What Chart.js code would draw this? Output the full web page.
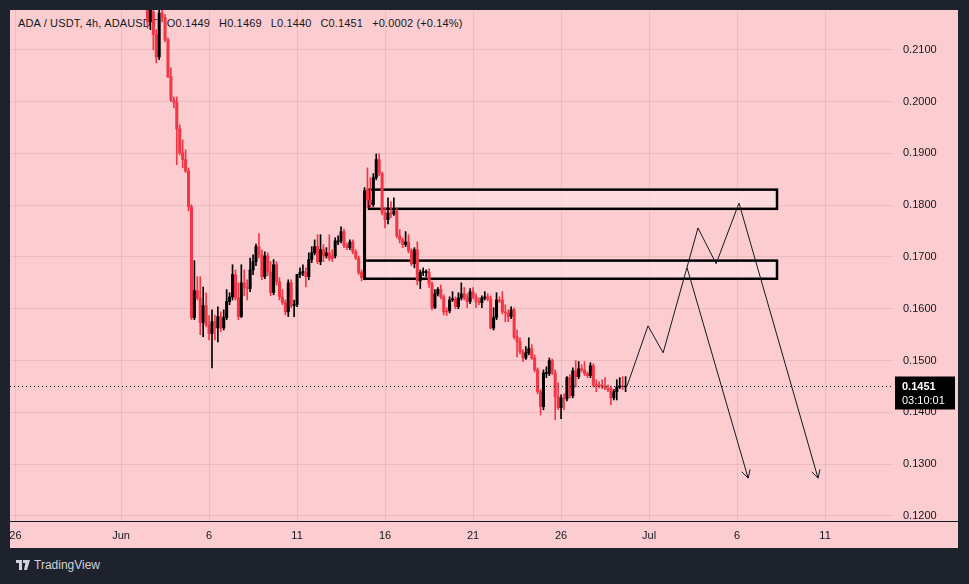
<!DOCTYPE html>
<html>
<head>
<meta charset="utf-8">
<script src="https://cdn.jsdelivr.net/npm/chart.js@4.4.0/dist/chart.umd.min.js"></script>
<style>
  html, body { margin: 0; padding: 0; background: #1e222d; width: 969px; height: 584px; overflow: hidden; }
  #panel { position: absolute; left: 10px; top: 10px; width: 948px; height: 538px; background: #fccdd0; }
  #legend { position: absolute; left: 8px; top: 7px; font: 11px "Liberation Sans", Arial, sans-serif; color: #131722; white-space: nowrap; letter-spacing: 0.15px; }
  #legend span { margin-left: 9px; }
  #chartCanvas { position: absolute; left: 0; top: 0; }
  #brand { position: absolute; left: 16px; top: 558px; font: 12px "Liberation Sans", Arial, sans-serif; color: #d1d4dc; display: flex; align-items: center; gap: 4px; }
</style>
</head>
<body>
<div id="panel">
  <div id="legend">ADA / USDT, 4h, ADAUSDT<span>O0.1449</span><span>H0.1469</span><span>L0.1440</span><span>C0.1451</span><span>+0.0002 (+0.14%)</span></div>
  <canvas id="chartCanvas" width="948" height="538"></canvas>
</div>
<div id="brand">
  <svg width="14" height="10" viewBox="0 0 14 10"><path d="M0 0h6v10H3V3H0z M7 0h3v3H7z M10 0h4l-3 10H8z" fill="#d1d4dc"/></svg>
  <span>TradingView</span>
</div>
<script>
// time axis: days counted from Jun 1
const tickDays = [-6, 0, 5, 10, 15, 20, 25, 30, 35, 40];
const tickLabels = ['26', 'Jun', '6', '11', '16', '21', '26', 'Jul', '6', '11'];
const priceTicks = [0.12, 0.13, 0.14, 0.15, 0.16, 0.17, 0.18, 0.19, 0.20, 0.21];

// 4h candles starting Jun 2 12:00
const firstCandleDay = 1.5;
const candleHours = 4;

const open = [
  0.2197, 0.2154, 0.2173, 0.2129, 0.2086, 0.2171, 0.2162, 0.2119, 0.2048, 0.2003,
  0.1998, 0.1947, 0.1901, 0.1888, 0.1866, 0.1797, 0.1583, 0.1635, 0.1621, 0.1573,
  0.1606, 0.1569, 0.1552, 0.1575, 0.1563, 0.1585, 0.1563, 0.1583, 0.1614, 0.1623,
  0.1666, 0.1621, 0.1585, 0.1650, 0.1641, 0.1639, 0.1675, 0.1691, 0.1720, 0.1704,
  0.1662, 0.1702, 0.1671, 0.1631, 0.1685, 0.1652, 0.1623, 0.1612, 0.1594, 0.1650,
  0.1606, 0.1608, 0.1666, 0.1670, 0.1670, 0.1662, 0.1695, 0.1708, 0.1720, 0.1691,
  0.1714, 0.1702, 0.1708, 0.1702, 0.1702, 0.1729, 0.1731, 0.1749, 0.1722, 0.1718,
  0.1729, 0.1710, 0.1698, 0.1670, 0.1660, 0.1830, 0.1810, 0.1801, 0.1853, 0.1888,
  0.1861, 0.1785, 0.1772, 0.1785, 0.1783, 0.1789, 0.1741, 0.1733, 0.1724, 0.1729,
  0.1712, 0.1687, 0.1714, 0.1654, 0.1670, 0.1670, 0.1670, 0.1648, 0.1602, 0.1629,
  0.1637, 0.1623, 0.1596, 0.1596, 0.1617, 0.1619, 0.1604, 0.1621, 0.1629, 0.1621,
  0.1614, 0.1633, 0.1623, 0.1614, 0.1612, 0.1621, 0.1623, 0.1619, 0.1563, 0.1583,
  0.1617, 0.1617, 0.1594, 0.1592, 0.1585, 0.1598, 0.1546, 0.1536, 0.1517, 0.1505,
  0.1515, 0.1523, 0.1505, 0.1482, 0.1440, 0.1411, 0.1475, 0.1475, 0.1500, 0.1476,
  0.1430, 0.1409, 0.1428, 0.1426, 0.1467, 0.1432, 0.1480, 0.1469, 0.1484, 0.1482,
  0.1475, 0.1471, 0.1490, 0.1453, 0.1453, 0.1453, 0.1451, 0.1447, 0.1446, 0.1428,
  0.1440, 0.1449, 0.1451, 0.1449
];
const high = [
  0.2216, 0.2216, 0.2187, 0.2139, 0.2197, 0.2187, 0.2168, 0.2123, 0.2065, 0.2009,
  0.2009, 0.1955, 0.1926, 0.1907, 0.1872, 0.1801, 0.1693, 0.1662, 0.1662, 0.1642,
  0.1631, 0.1587, 0.1598, 0.1588, 0.1604, 0.1594, 0.1598, 0.1637, 0.1631, 0.1685,
  0.1675, 0.1650, 0.1685, 0.1675, 0.1656, 0.1698, 0.1704, 0.1725, 0.1745, 0.1714,
  0.1710, 0.1708, 0.1691, 0.1695, 0.1691, 0.1660, 0.1637, 0.1617, 0.1656, 0.1656,
  0.1617, 0.1666, 0.1679, 0.1685, 0.1679, 0.1708, 0.1720, 0.1733, 0.1743, 0.1743,
  0.1724, 0.1718, 0.1743, 0.1714, 0.1737, 0.1741, 0.1758, 0.1754, 0.1727, 0.1733,
  0.1733, 0.1714, 0.1702, 0.1675, 0.1834, 0.1872, 0.1853, 0.1861, 0.1899, 0.1899,
  0.1864, 0.1795, 0.1814, 0.1807, 0.1814, 0.1793, 0.1753, 0.1737, 0.1749, 0.1743,
  0.1716, 0.1718, 0.1729, 0.1675, 0.1679, 0.1675, 0.1677, 0.1652, 0.1637, 0.1641,
  0.1646, 0.1627, 0.1602, 0.1623, 0.1633, 0.1623, 0.1631, 0.1650, 0.1641, 0.1629,
  0.1639, 0.1641, 0.1629, 0.1621, 0.1625, 0.1633, 0.1629, 0.1625, 0.1602, 0.1631,
  0.1623, 0.1633, 0.1608, 0.1598, 0.1604, 0.1602, 0.1559, 0.1544, 0.1521, 0.1527,
  0.1544, 0.1531, 0.1511, 0.1486, 0.1444, 0.1482, 0.1488, 0.1505, 0.1503, 0.1482,
  0.1457, 0.1434, 0.1436, 0.1469, 0.1473, 0.1486, 0.1500, 0.1498, 0.1492, 0.1498,
  0.1478, 0.1496, 0.1494, 0.1463, 0.1459, 0.1463, 0.1467, 0.1453, 0.1451, 0.1444,
  0.1463, 0.1467, 0.1469, 0.1469
];
const low = [
  0.2142, 0.2139, 0.2100, 0.2075, 0.2081, 0.2154, 0.2115, 0.2046, 0.2000, 0.1988,
  0.1878, 0.1897, 0.1872, 0.1863, 0.1789, 0.1579, 0.1579, 0.1617, 0.1550, 0.1546,
  0.1565, 0.1540, 0.1486, 0.1540, 0.1536, 0.1556, 0.1559, 0.1579, 0.1608, 0.1617,
  0.1617, 0.1579, 0.1583, 0.1625, 0.1617, 0.1633, 0.1666, 0.1683, 0.1698, 0.1656,
  0.1658, 0.1664, 0.1625, 0.1627, 0.1646, 0.1617, 0.1608, 0.1588, 0.1585, 0.1602,
  0.1585, 0.1604, 0.1660, 0.1664, 0.1642, 0.1656, 0.1689, 0.1704, 0.1687, 0.1685,
  0.1691, 0.1698, 0.1693, 0.1691, 0.1698, 0.1724, 0.1727, 0.1718, 0.1714, 0.1714,
  0.1706, 0.1695, 0.1666, 0.1654, 0.1656, 0.1795, 0.1795, 0.1797, 0.1849, 0.1857,
  0.1781, 0.1756, 0.1764, 0.1776, 0.1780, 0.1737, 0.1727, 0.1718, 0.1720, 0.1708,
  0.1683, 0.1679, 0.1646, 0.1639, 0.1664, 0.1662, 0.1641, 0.1598, 0.1600, 0.1625,
  0.1619, 0.1588, 0.1587, 0.1592, 0.1614, 0.1600, 0.1600, 0.1617, 0.1617, 0.1602,
  0.1610, 0.1619, 0.1602, 0.1608, 0.1602, 0.1617, 0.1615, 0.1561, 0.1559, 0.1579,
  0.1612, 0.1590, 0.1575, 0.1575, 0.1581, 0.1542, 0.1507, 0.1513, 0.1498, 0.1502,
  0.1511, 0.1502, 0.1478, 0.1436, 0.1395, 0.1405, 0.1467, 0.1471, 0.1473, 0.1386,
  0.1405, 0.1388, 0.1405, 0.1422, 0.1428, 0.1428, 0.1449, 0.1465, 0.1478, 0.1471,
  0.1467, 0.1467, 0.1449, 0.1440, 0.1447, 0.1446, 0.1444, 0.1440, 0.1415, 0.1424,
  0.1424, 0.1446, 0.1444, 0.1440
];
const close = [
  0.2154, 0.2177, 0.2129, 0.2086, 0.2171, 0.2162, 0.2119, 0.2048, 0.2003, 0.1998,
  0.1947, 0.1901, 0.1888, 0.1866, 0.1797, 0.1583, 0.1635, 0.1621, 0.1573, 0.1606,
  0.1569, 0.1552, 0.1575, 0.1563, 0.1585, 0.1563, 0.1583, 0.1614, 0.1623, 0.1666,
  0.1621, 0.1585, 0.1650, 0.1641, 0.1639, 0.1675, 0.1691, 0.1720, 0.1704, 0.1662,
  0.1702, 0.1671, 0.1631, 0.1685, 0.1652, 0.1623, 0.1612, 0.1594, 0.1650, 0.1606,
  0.1608, 0.1666, 0.1670, 0.1671, 0.1662, 0.1695, 0.1708, 0.1720, 0.1691, 0.1714,
  0.1702, 0.1708, 0.1697, 0.1697, 0.1731, 0.1731, 0.1749, 0.1722, 0.1718, 0.1729,
  0.1710, 0.1698, 0.1670, 0.1660, 0.1828, 0.1810, 0.1801, 0.1853, 0.1888, 0.1861,
  0.1785, 0.1772, 0.1785, 0.1783, 0.1789, 0.1741, 0.1733, 0.1724, 0.1729, 0.1712,
  0.1687, 0.1714, 0.1654, 0.1670, 0.1671, 0.1671, 0.1648, 0.1602, 0.1629, 0.1637,
  0.1623, 0.1594, 0.1594, 0.1617, 0.1619, 0.1604, 0.1621, 0.1629, 0.1621, 0.1614,
  0.1633, 0.1623, 0.1614, 0.1612, 0.1621, 0.1623, 0.1619, 0.1563, 0.1583, 0.1617,
  0.1615, 0.1594, 0.1592, 0.1585, 0.1598, 0.1546, 0.1536, 0.1517, 0.1505, 0.1515,
  0.1523, 0.1505, 0.1482, 0.1440, 0.1411, 0.1476, 0.1476, 0.1500, 0.1476, 0.1430,
  0.1409, 0.1428, 0.1426, 0.1467, 0.1432, 0.1480, 0.1469, 0.1484, 0.1482, 0.1475,
  0.1471, 0.1490, 0.1453, 0.1451, 0.1451, 0.1449, 0.1447, 0.1444, 0.1428, 0.1440,
  0.1449, 0.1451, 0.1449, 0.1451
];

// drawn zones (order blocks): start day, end day, top price, bottom price
const boxStart = [14.09, 13.83];
const boxEnd = [37.27, 37.27];
const boxTop = [0.1830, 0.1693];
const boxBottom = [0.1793, 0.1658];

// projected path drawn by hand
const pathDays = [28.75, 29.94, 30.80, 32.78, 33.81, 35.11, 39.60];
const pathPrices = [0.1451, 0.1567, 0.1515, 0.1756, 0.1687, 0.1804, 0.1273];
const branchDays = [32.16, 35.63];
const branchPrices = [0.1679, 0.1273];

const lastPrice = 0.1451;
const countdown = '03:10:01';

const RED = '#f23645';
const BLACK = '#000000';
const INK = '#131722';
const GRID = 'rgba(170, 100, 110, 0.16)';

const times = open.map((_, i) => firstCandleDay + i * candleHours / 24);
const colors = open.map((o, i) => close[i] >= o ? BLACK : RED);

const wicks = times.map((t, i) => ({ x: t, y: [low[i], high[i]] }));
const bodies = times.map((t, i) => ({ x: t, y: [open[i], close[i]] }));
const path = pathDays.map((d, i) => ({ x: d, y: pathPrices[i] }));
const branch = branchDays.map((d, i) => ({ x: d, y: branchPrices[i] }));

const zonesPlugin = {
    id: 'zones',
    beforeDatasetsDraw(chart) {
        const { ctx, scales: { x, y } } = chart;
        ctx.save();
        for (let i = 0; i < boxStart.length; i++) {
            const x1 = x.getPixelForValue(boxStart[i]);
            const x2 = x.getPixelForValue(boxEnd[i]);
            const y1 = y.getPixelForValue(boxTop[i]);
            const y2 = y.getPixelForValue(boxBottom[i]);
            ctx.fillStyle = 'rgba(255, 232, 234, 0.55)';
            ctx.fillRect(x1, y1, x2 - x1, y2 - y1);
            ctx.strokeStyle = BLACK;
            ctx.lineWidth = 2.5;
            ctx.strokeRect(x1, y1, x2 - x1, y2 - y1);
        }
        ctx.restore();
    }
};

function arrowHead(ctx, x, y, days, prices) {
    const n = days.length;
    const ax = x.getPixelForValue(days[n - 2]), ay = y.getPixelForValue(prices[n - 2]);
    const bx = x.getPixelForValue(days[n - 1]), by = y.getPixelForValue(prices[n - 1]);
    const ang = Math.atan2(by - ay, bx - ax);
    const len = 9;
    ctx.beginPath();
    ctx.moveTo(bx - len * Math.cos(ang - 0.5), by - len * Math.sin(ang - 0.5));
    ctx.lineTo(bx, by);
    ctx.lineTo(bx - len * Math.cos(ang + 0.5), by - len * Math.sin(ang + 0.5));
    ctx.stroke();
}

const overlayPlugin = {
    id: 'overlay',
    afterDatasetsDraw(chart) {
        const { ctx, chartArea, scales: { x, y } } = chart;
        const py = Math.round(y.getPixelForValue(lastPrice)) + 0.5;
        ctx.save();
        // time scale line continues under the price scale
        ctx.strokeStyle = INK;
        ctx.lineWidth = 1;
        ctx.beginPath();
        ctx.moveTo(chartArea.right, chartArea.bottom + 0.5);
        ctx.lineTo(chart.width, chartArea.bottom + 0.5);
        ctx.stroke();
        // dotted last price line
        ctx.setLineDash([1, 3]);
        ctx.beginPath();
        ctx.moveTo(chartArea.left, py);
        ctx.lineTo(chartArea.right, py);
        ctx.stroke();
        ctx.setLineDash([]);
        // arrow heads on the projection
        arrowHead(ctx, x, y, pathDays, pathPrices);
        arrowHead(ctx, x, y, branchDays, branchPrices);
        // price tag on the scale
        const left = chartArea.right + 2;
        ctx.fillStyle = BLACK;
        ctx.fillRect(left, py - 10, 60, 33);
        ctx.fillStyle = '#ffffff';
        ctx.textBaseline = 'middle';
        ctx.textAlign = 'left';
        ctx.font = 'bold 11px "Liberation Sans", Arial, sans-serif';
        ctx.fillText(lastPrice.toFixed(4), left + 7, py);
        ctx.font = '11px "Liberation Sans", Arial, sans-serif';
        ctx.fillText(countdown, left + 7, py + 14);
        ctx.restore();
    }
};

const ctx = document.getElementById('chartCanvas').getContext('2d');
const chartCanvas = new Chart(ctx, {
    type: 'bar',
    data: {
        datasets: [{
            label: 'wicks',
            data: wicks,
            backgroundColor: colors,
            barThickness: 1,
            grouped: false,
            minBarLength: 1,
            order: 3
        }, {
            label: 'bodies',
            data: bodies,
            backgroundColor: colors,
            barThickness: 2.4,
            grouped: false,
            minBarLength: 1,
            order: 2
        }, {
            type: 'line',
            label: 'path',
            data: path,
            borderColor: INK,
            borderWidth: 1,
            pointRadius: 0,
            tension: 0,
            order: 1
        }, {
            type: 'line',
            label: 'branch',
            data: branch,
            borderColor: INK,
            borderWidth: 1,
            pointRadius: 0,
            tension: 0,
            order: 1
        }]
    },
    options: {
        responsive: false,
        animation: false,
        layout: { padding: 0 },
        scales: {
            x: {
                type: 'linear',
                min: -6.31,
                max: 43.86,
                offset: false,
                afterBuildTicks: (s) => { s.ticks = tickDays.map(v => ({ value: v })); },
                afterFit: (s) => { s.height = 27; s.paddingLeft = 0; s.paddingRight = 0; },
                grid: {
                    offset: false,
                    color: GRID,
                    drawTicks: false
                },
                border: { display: true, color: INK, width: 1 },
                ticks: {
                    autoSkip: false,
                    maxRotation: 0,
                    padding: 8,
                    color: INK,
                    font: { family: '"Liberation Sans", Arial, sans-serif', size: 11 },
                    callback: (v, i) => tickLabels[i]
                }
            },
            y: {
                type: 'linear',
                position: 'right',
                min: 0.11903,
                max: 0.21768,
                afterBuildTicks: (s) => { s.ticks = priceTicks.map(v => ({ value: v })); },
                afterFit: (s) => { s.width = 65; s.paddingTop = 0; s.paddingBottom = 0; },
                grid: {
                    color: GRID,
                    drawTicks: false
                },
                border: { display: false },
                ticks: {
                    padding: 10,
                    color: INK,
                    font: { family: '"Liberation Sans", Arial, sans-serif', size: 11 },
                    callback: (v) => v.toFixed(4)
                }
            }
        },
        plugins: {
            legend: { display: false },
            tooltip: { enabled: false }
        }
    },
    plugins: [zonesPlugin, overlayPlugin]
});
</script>
</body>
</html>
